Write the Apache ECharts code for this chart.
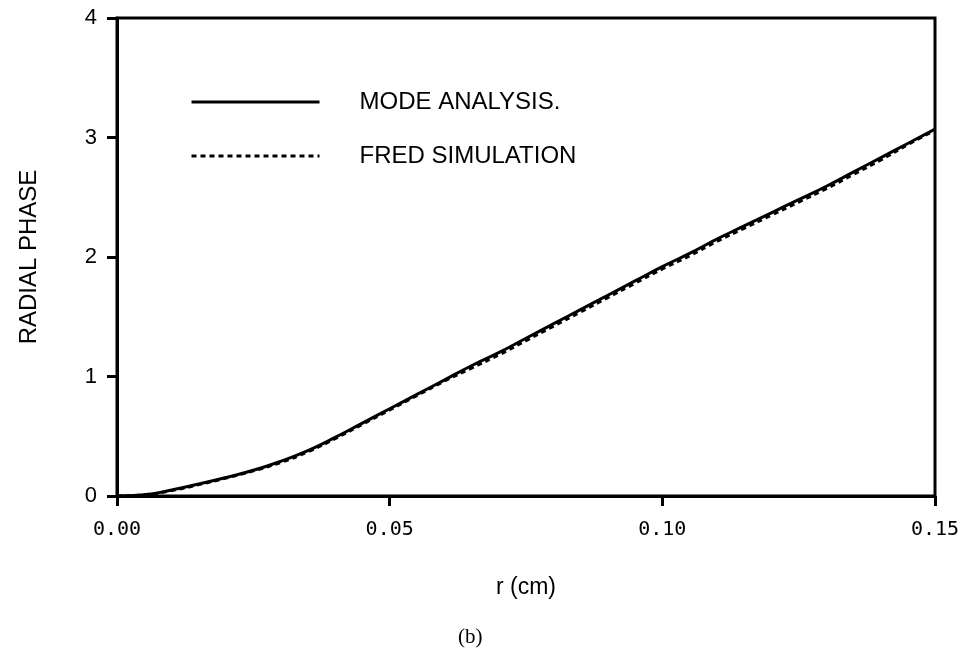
<!DOCTYPE html>
<html>
<head>
<meta charset="utf-8">
<script src="https://cdn.jsdelivr.net/npm/echarts@6/dist/echarts.min.js"></script>
<style>
  html, body { margin: 0; padding: 0; background: #fff; }
  #main { width: 967px; height: 664px; }
</style>
</head>
<body>
<div id="main"></div>
<script>
// radius r (cm)
var radius = [0, 0.005, 0.01, 0.015, 0.02, 0.025, 0.03, 0.035, 0.04, 0.045,
              0.05, 0.055, 0.06, 0.065, 0.07, 0.075, 0.08, 0.085, 0.09, 0.095,
              0.10, 0.105, 0.11, 0.115, 0.12, 0.125, 0.13, 0.135, 0.14, 0.145, 0.15];
// mode analysis phase
var modePhase = [0, 0.01, 0.05, 0.10, 0.155, 0.215, 0.29, 0.38, 0.49, 0.61,
                 0.73, 0.85, 0.97, 1.09, 1.20, 1.32, 1.44, 1.56, 1.68, 1.80,
                 1.92, 2.03, 2.15, 2.26, 2.37, 2.48, 2.59, 2.71, 2.83, 2.95, 3.07];
// FRED simulation phase
var fredPhase = [0, 0.01, 0.045, 0.095, 0.15, 0.21, 0.28, 0.37, 0.48, 0.60,
                 0.72, 0.84, 0.96, 1.07, 1.18, 1.30, 1.42, 1.54, 1.66, 1.78,
                 1.90, 2.01, 2.13, 2.24, 2.35, 2.46, 2.57, 2.69, 2.81, 2.94, 3.06];

function pairs(xs, ys) {
    var out = [];
    for (var i = 0; i < xs.length; i++) {
        out.push([xs[i], ys[i]]);
    }
    return out;
}

var myChart = echarts.init(document.getElementById('main'));
var option = {
    animation: false,
    backgroundColor: '#fff',
    title: {
        text: '(b)',
        left: 453,
        top: 622,
        textStyle: { fontFamily: 'Liberation Serif', fontSize: 21, fontWeight: 'normal', color: '#000' }
    },
    grid: {
        left: 117, right: 32, top: 18, bottom: 168,
        show: true, borderColor: '#000', borderWidth: 3
    },
    legend: {
        left: 190,
        top: 88,
        padding: 0,
        orient: 'vertical',
        itemWidth: 128,
        itemHeight: 14,
        itemGap: 26,
        data: ['MODE ANALYSIS.', 'FRED SIMULATION'],
        itemStyle: { opacity: 0 },
        lineStyle: { width: 3 },
        textStyle: { fontFamily: 'Liberation Sans', fontSize: 24, color: '#000', padding: [0, 0, 0, 35], lineHeight: 28 }
    },
    xAxis: {
        type: 'value',
        min: 0, max: 0.15, interval: 0.05,
        name: 'r (cm)',
        nameLocation: 'middle',
        nameGap: 80,
        nameTextStyle: { fontFamily: 'Liberation Sans', fontSize: 23, color: '#000' },
        axisLine: { lineStyle: { color: '#000', width: 3 } },
        axisTick: { show: true, length: 10, lineStyle: { color: '#000', width: 3 } },
        axisLabel: {
            margin: 24,
            fontFamily: 'DejaVu Sans Mono', fontSize: 20, color: '#000',
            formatter: function (v) { return v.toFixed(2); }
        },
        splitLine: { show: false }
    },
    yAxis: {
        type: 'value',
        min: 0, max: 4, interval: 1,
        name: 'RADIAL PHASE',
        nameLocation: 'middle',
        nameGap: 76,
        nameTextStyle: { fontFamily: 'Liberation Sans', fontSize: 24, color: '#000' },
        axisLine: { lineStyle: { color: '#000', width: 3 } },
        axisTick: { show: true, length: 10, lineStyle: { color: '#000', width: 3 } },
        axisLabel: { margin: 20, fontFamily: 'Liberation Sans', fontSize: 22, color: '#000' },
        splitLine: { show: false }
    },
    series: [
        {
            name: 'MODE ANALYSIS.',
            type: 'line',
            data: pairs(radius, modePhase),
            smooth: true,
            symbol: 'none',
            lineStyle: { color: '#000', width: 3 },
            itemStyle: { color: '#000' }
        },
        {
            name: 'FRED SIMULATION',
            type: 'line',
            data: pairs(radius, fredPhase),
            smooth: true,
            symbol: 'none',
            lineStyle: { color: '#000', width: 3, type: [5, 4] },
            itemStyle: { color: '#000' }
        }
    ]
};
myChart.setOption(option);
</script>
</body>
</html>
